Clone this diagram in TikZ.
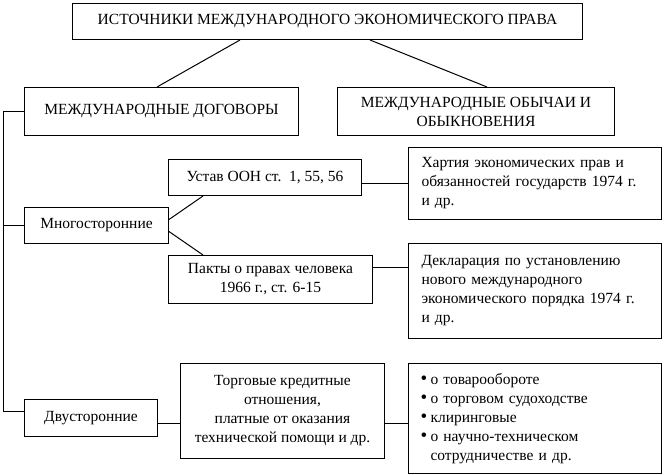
\documentclass[tikz,border=0pt]{standalone}
\usepackage{fontspec}
\setmainfont{Liberation Serif}
\newcommand{\bulitem}{\makebox[10pt][l]{\fontsize{19}{19}\selectfont •}}
\begin{document}
\begin{tikzpicture}[x=1pt,y=-1pt,line width=1pt,
  box/.style={draw,rectangle,anchor=north west,inner sep=0pt,align=center,
    font=\fontsize{15.5}{19}\selectfont},
  lbox/.style={box,align=left,inner xsep=13pt}]
\useasboundingbox (0,0) rectangle (664,474);
% level 0-1
\node[box,minimum width=510,minimum height=36] (top) at (72,3) {ИСТОЧНИКИ МЕЖДУНАРОДНОГО ЭКОНОМИЧЕСКОГО ПРАВА};
\node[box,minimum width=274,minimum height=48] (dog) at (24,87) {МЕЖДУНАРОДНЫЕ ДОГОВОРЫ};
\node[box,minimum width=277,minimum height=48] (obych) at (337,87) {МЕЖДУНАРОДНЫЕ ОБЫЧАИ И\\ОБЫКНОВЕНИЯ};
\draw (top.south -| 240,0) -- (dog.north -| 157,0);
\draw (top.south -| 370,0) -- (obych.north -| 487,0);
% multilateral
\node[box,minimum width=144,minimum height=36] (multi) at (24,207) {Многосторонние};
\node[box,minimum width=193,minimum height=36] (ustav) at (168,159) {Устав ООН ст.\ \ 1, 55, 56};
\node[box,minimum width=204,minimum height=48] (pakt) at (168,255) {Пакты о правах человека\\1966 г., ст. 6-15};
\node[lbox,text width=227,minimum height=72] (hart) at (408,147) {Хартия экономических прав и\\обязанностей государств 1974 г.\\и др.};
\node[lbox,text width=227,minimum height=95] (dekl) at (408,243) {Декларация по установлению\\нового международного\\экономического порядка 1974 г.\\и др.};
\draw ([yshift=6pt]multi.east) -- ([xshift=35pt]ustav.south west);
\draw ([yshift=-6pt]multi.east) -- ([xshift=35pt]pakt.north west);
\coordinate (ra) at (0,183);
\coordinate (rb) at (0,267);
\draw (ustav.east |- ra) -- (hart.west |- ra);
\draw (pakt.east |- rb) -- (dekl.west |- rb);
% bilateral
\node[box,minimum width=133,minimum height=37] (dvu) at (24,399) {Двусторонние};
\node[box,minimum width=204,minimum height=95] (torg) at (180,363) {Торговые кредитные\\отношения,\\платные от оказания\\технической помощи и др.};
\node[lbox,inner xsep=12pt,text width=229,minimum height=110] (bul) at (408,363) {\bulitem о товарообороте\\\bulitem о торговом судоходстве\\\bulitem клиринговые\\\bulitem о научно-техническом\\\hspace*{10pt}сотрудничестве и др.};
\coordinate (rc) at (0,423);
\draw (dvu.east |- rc) -- (torg.west |- rc);
\draw (torg.east |- rc) -- (bul.west |- rc);
% spine
\coordinate (spine) at (3,0);
\coordinate (rd) at (0,411);
\draw (dog.west) -- (dog.west -| spine) -- (spine |- rd) -- (dvu.west |- rd);
\draw (multi.west) -- (multi.west -| spine);
\end{tikzpicture}
\end{document}
